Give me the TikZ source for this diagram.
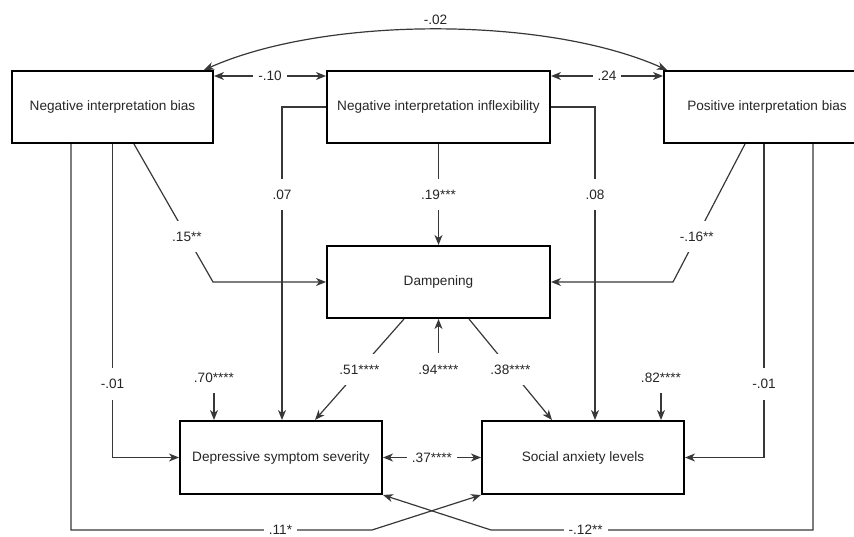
\documentclass[tikz,border=0pt]{standalone}
\usepackage{fontspec}
\setmainfont{Liberation Sans}
\usetikzlibrary{arrows.meta}
\begin{document}
\begin{tikzpicture}[x=1pt,y=-1pt,
  txt/.style={font=\fontsize{13.6}{16}\selectfont,text=black!85},
  box/.style={txt,draw=black,line width=2pt,minimum height=72pt,inner sep=0pt},
  con/.style={draw=black!78,line width=1.2pt},
  arr/.style={con,-{Stealth[length=10pt,width=8pt,inset=3pt]}},
  dbl/.style={con,{Stealth[length=10pt,width=8pt,inset=3pt]}-{Stealth[length=10pt,width=8pt,inset=3pt]}},
  labv/.style={txt,fill=white,inner xsep=3pt,inner ysep=11pt},
  labh/.style={txt,fill=white,inner xsep=5pt,inner ysep=2pt},
  res/.style={txt,inner sep=2pt}
]
\useasboundingbox (0,0) rectangle (854,537);
\clip (0,0) rectangle (854,537);

% boxes
\node[box,minimum width=201pt] (nib) at (112.5,107) {Negative interpretation bias};
\node[box,minimum width=223pt] (nii) at (438.5,107) {Negative interpretation inflexibility};
\node[box,minimum width=206pt] (pib) at (767,107) {Positive interpretation bias};
\node[box,minimum width=223pt] (damp) at (438.5,282) {Dampening};
\node[box,minimum width=202pt,minimum height=73pt] (dss) at (281,457.5) {Depressive symptom severity};
\node[box,minimum width=202pt,minimum height=73pt] (sal) at (583,457.5) {Social anxiety levels};

% covariances among predictors
\draw[dbl] ([xshift=-10pt]nib.north east) .. controls (325,16) and (546,16) .. node[txt,midway,above=1pt]{-.02} ([xshift=4pt]pib.north west);
\draw[dbl] ([yshift=-6pt]nib.north east) -- node[labh]{-.10} ([yshift=-6pt]nii.north west);
\draw[dbl] ([yshift=-6pt]nii.north east) -- node[labh]{.24} ([yshift=-6pt]pib.north west);

% paths from inflexibility
\draw[arr] (nii.west) -| node[labv,pos=0.64]{.07} ([xshift=1pt]dss.north);
\draw[arr] (nii.east) -| node[labv,pos=0.64]{.08} ([xshift=12pt]sal.north);
\draw[arr] (nii.south) -- node[labv]{.19***} (damp.north);

% paths into dampening
\draw[arr] ([xshift=21.5pt]nib.south) -- node[labv,pos=0.67]{.15**} ([xshift=-113pt]damp.west) -- (damp.west);
\draw[arr] ([xshift=-22pt]pib.south) -- node[labv,pos=0.67]{-.16**} ([xshift=122pt]damp.east) -- (damp.east);

% direct paths to outcomes
\draw[arr] (nib.south) |- node[labv,pos=0.383]{-.01} (dss.west);
\draw[arr] ([xshift=-3pt]pib.south) |- node[labv,pos=0.383]{-.01} (sal.east);
\draw[arr] ([xshift=-41.5pt]nib.south) |- node[labh,pos=0.848]{.11*} ([xshift=-109pt,yshift=-35pt]sal.south west) -- (sal.south west);
\draw[arr] ([xshift=46pt]pib.south) |- node[labh,pos=0.853]{-.12**} ([xshift=108pt,yshift=-35pt]dss.south east) -- (dss.south east);

% dampening to outcomes
\draw[arr] ([xshift=-34.5pt]damp.south) -- node[labv]{.51****} ([xshift=34pt]dss.north);
\draw[arr] ([xshift=30.5pt]damp.south) -- node[labv]{.38****} ([xshift=-31pt]sal.north);

% residuals
\node[res] (r94) at (438.5,370) {.94****};
\draw[arr] ([yshift=10pt]r94.north) -- (damp.south);
\node[res] (r70) at (214,378) {.70****};
\draw[arr] ([yshift=-8pt]r70.south) -- (dss.north -| r70);
\node[res] (r82) at (661,378) {.82****};
\draw[arr] ([yshift=-8pt]r82.south) -- (sal.north -| r82);

% outcome covariance
\draw[dbl] (dss.east) -- node[labh]{.37****} (sal.west);
\end{tikzpicture}
\end{document}
